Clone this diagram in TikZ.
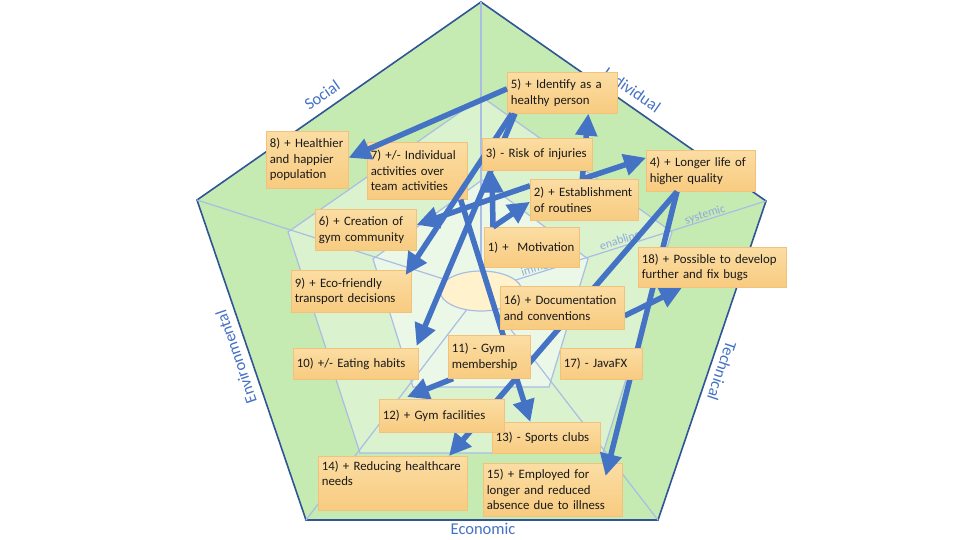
\documentclass[tikz,border=0pt]{standalone}
\usepackage{fontspec}
\setmainfont{Carlito}
\usetikzlibrary{arrows.meta}
\hyphenpenalty=10000
\exhyphenpenalty=10000

\definecolor{arrowblue}{HTML}{4472C4}
\definecolor{edgeblue}{HTML}{2F5597}
\definecolor{spokeblue}{HTML}{A9BDE5}
\definecolor{levelblue}{HTML}{8FAADC}
\definecolor{ringA}{HTML}{C5EAB2}
\definecolor{ringB}{HTML}{DAF2CD}
\definecolor{ringC}{HTML}{ECF8E7}
\definecolor{coreyellow}{HTML}{FFF2CC}
\definecolor{notetop}{HTML}{FBDDA3}
\definecolor{notebot}{HTML}{F8CB80}
\definecolor{noteline}{HTML}{F3C27A}

\pgfdeclarelayer{front}
\pgfsetlayers{main,front}

\tikzset{
  note/.style={anchor=north west, draw=noteline, line width=0.6pt,
    top color=notetop, bottom color=notebot, align=left,
    inner xsep=3.5pt, inner ysep=3pt, text=black!90,
    font=\fontsize{12.8}{15.5}\selectfont},
  impact/.style={draw=arrowblue, line width=5.5pt,
    -{Triangle[length=22pt,width=21pt]}},
  axis/.style={text=arrowblue, font=\fontsize{16.5}{18}\selectfont},
  level/.style={text=levelblue, font=\fontsize{12}{14}\selectfont,
    rotate=17.5, anchor=south, inner sep=1pt}
}

\begin{document}
\begin{tikzpicture}[x=1pt,y=-1pt]
  \useasboundingbox (0,0) rectangle (960,540);
  \fill[white] (0,0) rectangle (960,540);

  % rings
  \filldraw[fill=ringA, draw=edgeblue, line width=1.6pt]
    (481,2) -- (766,201) -- (658,520) -- (306,520) -- (197,200) -- cycle;
  \filldraw[fill=ringB, draw=spokeblue, line width=1.2pt]
    (482,97) -- (672,232) -- (603,453) -- (360,453) -- (288,232) -- cycle;
  \filldraw[fill=ringC, draw=spokeblue, line width=1.2pt]
    (482,180) -- (588,259) -- (549,387) -- (413,387) -- (373,259) -- cycle;
  \foreach \vx/\vy in {481/2,766/201,658/520,306/520,197/200}
    \draw[spokeblue, line width=1.2pt] (\vx,\vy) -- (481,291);
  \filldraw[fill=coreyellow, draw=spokeblue, line width=1.2pt]
    (481,291) ellipse [x radius=41, y radius=20];

  % dimensions and levels
  \node[axis, rotate=35] (social) at (322,95) {Social};
  \node[axis, rotate=-34.8] (individual) at (632,90) {Individual};
  \node[axis, rotate=108.8] (environmental) at (236,357) {Environmental};
  \node[axis, rotate=-108.7] (technical) at (722,371) {Technical};
  \node[axis] (economic) at (483,529) {Economic};
  \node[level] (systemic) at (707,221) {systemic};
  \node[level] (enabling) at (622,247) {enabling};
  \node[level] (immediate) at (548,270) {immediate};

  % effects
  \foreach \name/\x/\y/\w/\h/\txt in {
      n1/484/227/95/40/{1) +\ \ Motivation},
      n4/646/150/109/41/{4) + Longer life of\\higher quality},
      n5/507/72/110/41/{5) + Identify as a\\healthy person},
      n6/315/209/101/41/{6) + Creation of\\gym community},
      n7/367/142/100/57/{7) +/- Individual\\activities over\\team activities},
      n8/266/131/82/57/{8) + Healthier\\and happier\\population},
      n9/291/270/120/42/{9) + Eco-friendly\\transport decisions},
      n10/293/348/125/31/{10) +/- Eating habits},
      n13/492/422/108/31/{13) - Sports clubs},
      n14/318/456/149/54/{14) + Reducing healthcare\\needs\\\strut},
      n15/483/463/139/53/{15) + Employed for\\longer and reduced\\absence due to illness}} {
    \pgfmathsetmacro\tw{\w-7}
    \node[note, text width=\tw pt, minimum width=\w pt, minimum height=\h pt]
      (\name) at (\x,\y) {\txt};
  }
  \begin{pgfonlayer}{front}
    \foreach \name/\x/\y/\w/\h/\txt in {
        n2/530/179/108/41/{2) + Establishment\\of routines},
        n3/482/138/110/32/{3) - Risk of injuries},
        n11/448/335/82/43/{11) - Gym\\membership},
        n12/379/399/125/33/{12) + Gym facilities},
        n16/500/286/124/43/{16) + Documentation\\and conventions},
        n17/560/348/82/31/{17) - JavaFX},
        n18/638/247/148/40/{18) + Possible to develop\\further and fix bugs}} {
      \pgfmathsetmacro\tw{\w-7}
      \node[note, text width=\tw pt, minimum width=\w pt, minimum height=\h pt]
        (\name) at (\x,\y) {\txt};
    }
  \end{pgfonlayer}

  % links
  \draw[impact] ([xshift=9pt]n1.north west) -- ([xshift=10pt]n3.south west);
  \draw[impact] ([xshift=9pt]n1.north west) -- ([yshift=-2pt]n2.west);
  \draw[impact] ([xshift=-2pt]n2.north) -- ([xshift=26pt]n5.south);
  \draw[impact] ([xshift=-2pt]n2.north) -- ([yshift=13pt]n4.west);
  \draw[impact] ([yshift=14pt]n2.west) -- ([yshift=5pt]n6.east);
  \draw[impact] ([yshift=4pt]n5.west) -- ([yshift=2pt]n8.east);
  \draw[impact] ([xshift=5pt]n5.south west) -- ([xshift=-6pt,yshift=-5pt]n9.north east);
  \draw[impact] ([xshift=8pt]n5.south west) -- ([xshift=-2pt,yshift=2pt]n10.north east);
  \draw[impact] ([xshift=-7pt]n7.south east) -- ([xshift=-16pt]n13.north);
  \draw[impact] ([xshift=5pt]n11.south west) -- ([xshift=28pt,yshift=2pt]n12.north west);
  \draw[impact] ([yshift=-8pt]n16.east) -- ([xshift=44pt]n18.south west);
  \draw[impact] ([xshift=31pt]n4.south west) -- ([xshift=131pt]n14.north west);
  \draw[impact] ([xshift=31pt]n4.south west) -- ([xshift=-17pt,yshift=-13pt]n15.north east);
\end{tikzpicture}
\end{document}
